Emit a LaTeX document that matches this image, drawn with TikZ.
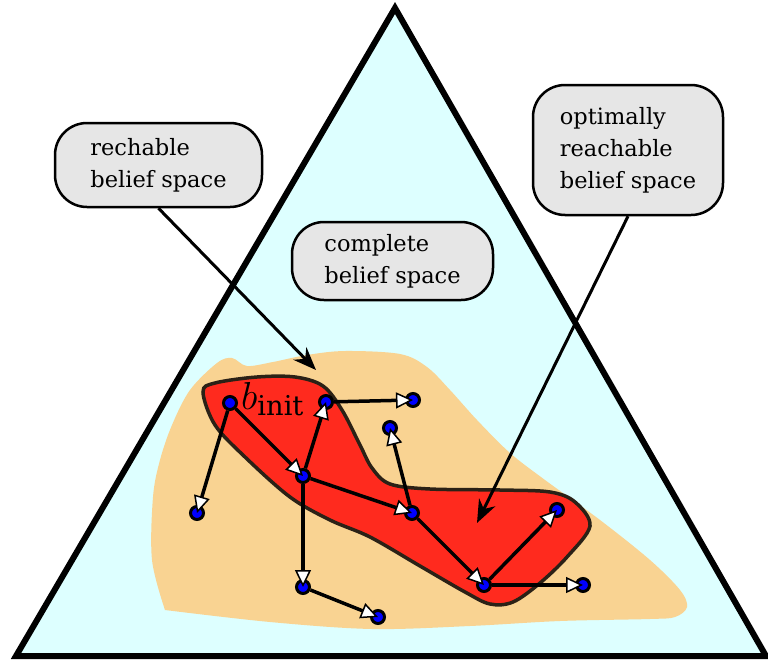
\RequirePackage{fix-cm}
\documentclass[tikz,border=0pt]{standalone}
\usepackage{fontspec}
\setmainfont{DejaVu Serif}
\usetikzlibrary{arrows.meta}
\definecolor{spacecyan}{RGB}{221,255,255}
\definecolor{reachorange}{RGB}{249,211,146}
\definecolor{optred}{RGB}{255,42,30}
\definecolor{redrim}{RGB}{43,33,22}
\definecolor{calloutgray}{RGB}{230,230,230}

\begin{document}
\begin{tikzpicture}[x=1pt,y=-1pt,
  state/.style={circle,draw=black,fill=blue,line width=3pt,minimum size=13pt,inner sep=0pt},
  move/.style={line width=3.5pt,-{Triangle[length=17pt,width=16pt,fill=white,line width=1.5pt]}},
  callout/.style={draw=black,fill=calloutgray,line width=2.5pt,rounded corners=32pt,
    align=left,font=\fontsize{22.5}{32}\selectfont,inner sep=0pt},
  pointer/.style={line width=3pt,-{Stealth[length=23pt,width=18pt]}}]

\useasboundingbox (0,0) rectangle (768,661);

% complete belief space (simplex)
\fill[spacecyan] (395,8) -- (16,656) -- (766,656) -- cycle;

% reachable belief space
\fill[reachorange] plot[smooth,tension=0.55] coordinates {
  (165,610) (152,560) (153,497) (160,460) (172,425) (190,390) (217,363)
  (232,358) (247,366) (273,362) (307,355) (345,351)
  (400,354) (427,367) (450,390) (477,420) (510,453) (545,480) (600,520)
  (650,560) (680,590) (687,607) (675,617) (650,619) (560,621) (470,626)
  (372,629) (270,622) (165,610)} -- cycle;

% optimally reachable belief space
\filldraw[fill=optred,draw=redrim,line width=3.5pt] plot[smooth cycle,tension=0.55] coordinates {
  (203,392) (215,383) (257,377) (295,377) (323,386) (342,410) (360,445)
  (372,468) (390,484) (430,489) (500,490) (550,492) (575,502) (590,526)
  (567,557) (540,583) (513,602) (490,604) (465,592) (420,566) (370,537)
  (330,520) (290,497) (245,457) (215,425)};

% simplex outline
\draw[line width=6pt,line join=miter] (395,8) -- (16,656) -- (766,656) -- cycle;

% labels
\node[callout,minimum width=207pt,minimum height=84pt] (rech) at (158.5,165)
  {rechable\\belief space};
\node[callout,minimum width=201pt,minimum height=78pt] (complete) at (392.5,261)
  {complete\\belief space};
\node[callout,minimum width=190pt,minimum height=130pt] (optimal) at (628,150)
  {optimally\\reachable\\belief space};

\coordinate (rechtip) at (316,370);
\coordinate (opttip) at (477,523);
\draw[pointer] (rech.south) -- (rechtip);
\draw[pointer] (optimal.south) -- (opttip);

% belief states
\node[state] (bi) at (230,403) {};
\node[state] (a) at (326,402) {};
\node[state] (b) at (413,400) {};
\node[state] (c) at (390,428) {};
\node[state] (d) at (303,476) {};
\node[state] (e) at (197,513) {};
\node[state] (f) at (412,513) {};
\node[state] (g) at (557,510) {};
\node[state] (h) at (484,585) {};
\node[state] (i) at (583,585) {};
\node[state] (j) at (303,587) {};
\node[state] (k) at (378,617) {};

\node[anchor=base west,inner sep=0pt,font=\fontsize{39}{46}\selectfont] (binitlabel)
  at (241,409) {$b_{\mathrm{init}}$};

% transitions
\draw[move] (bi) -- (d.center);
\draw[move] (bi) -- (e.center);
\draw[move] (d) -- (a.center);
\draw[move] (a) -- (b.center);
\draw[move] (d) -- (f.center);
\draw[move] (f) -- (c.center);
\draw[move] (f) -- (h.center);
\draw[move] (h) -- (g.center);
\draw[move] (h) -- (i.center);
\draw[move] (d) -- (j.center);
\draw[move] (j) -- (k.center);
\end{tikzpicture}
\end{document}
